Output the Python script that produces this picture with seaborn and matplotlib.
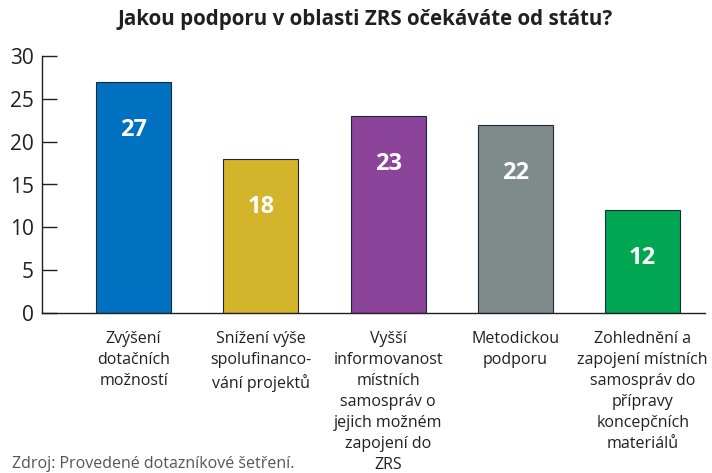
import matplotlib
matplotlib.use("Agg")
import matplotlib.pyplot as plt
import seaborn as sns
import pandas as pd

categories = [
    "Zvýšení\ndotačních\nmožností",
    "Snížení výše\nspolufinanco-\nvání projektů",
    "Vyšší\ninformovanost\nmístních\nsamospráv o\njejich možném\nzapojení do\nZRS",
    "Metodickou\npodporu",
    "Zohlednění a\nzapojení místních\nsamospráv do\npřípravy\nkoncepčních\nmateriálů",
]
values = [27, 18, 23, 22, 12]
colors = ["#0070C0", "#D4B42A", "#8B4499", "#7F8B8B", "#00A651"]
yticks = [0, 5, 10, 15, 20, 25, 30]

sns.set_theme(style="white")
plt.rcParams["font.family"] = ["Open Sans", "DejaVu Sans"]

df = pd.DataFrame({"cat": categories, "val": values})

fig = plt.figure(figsize=(7.12, 4.73), dpi=100)
ax = fig.add_axes([42 / 712, 1 - 313 / 473, (705 - 42) / 712, (313 - 56) / 473])
sns.barplot(data=df, x="cat", y="val", hue="cat", palette=colors, legend=False,
            width=0.59, edgecolor="#1a2a3a", linewidth=0.8, ax=ax, saturation=1)

ax.set_xlim(-0.72, 4.49)
ax.set_ylim(0, 30)
ax.set_yticks(yticks)
ax.set_xlabel("")
ax.set_ylabel("")
for s in ["top", "right"]:
    ax.spines[s].set_visible(False)
for s in ["left", "bottom"]:
    ax.spines[s].set_color("#231f20")
    ax.spines[s].set_linewidth(1.0)
ax.tick_params(axis="y", direction="in", length=11, width=1, color="#231f20",
               labelsize=15, labelcolor="#231f20", pad=6, left=True)
ax.tick_params(axis="x", length=0, labelsize=11.5, labelcolor="#231f20", pad=13)
for lbl in ax.get_xticklabels():
    lbl.set_linespacing(1.42)
    lbl.set_verticalalignment("top")

for i, v in enumerate(values):
    ax.text(i, v - 5.6, str(v), ha="center", va="center", color="white",
            fontsize=17, fontweight="bold")

fig.text(365 / 712, 1 - 20 / 473, "Jakou podporu v oblasti ZRS očekáváte od státu?",
         ha="center", va="center", fontsize=14.8, fontweight="bold", color="#231f20")
fig.text(12 / 712, 1 - 464 / 473, "Zdroj: Provedené dotazníkové šetření.",
         ha="left", va="center", fontsize=11.5, color="#555555")

fig.savefig("out.png", dpi=100)
